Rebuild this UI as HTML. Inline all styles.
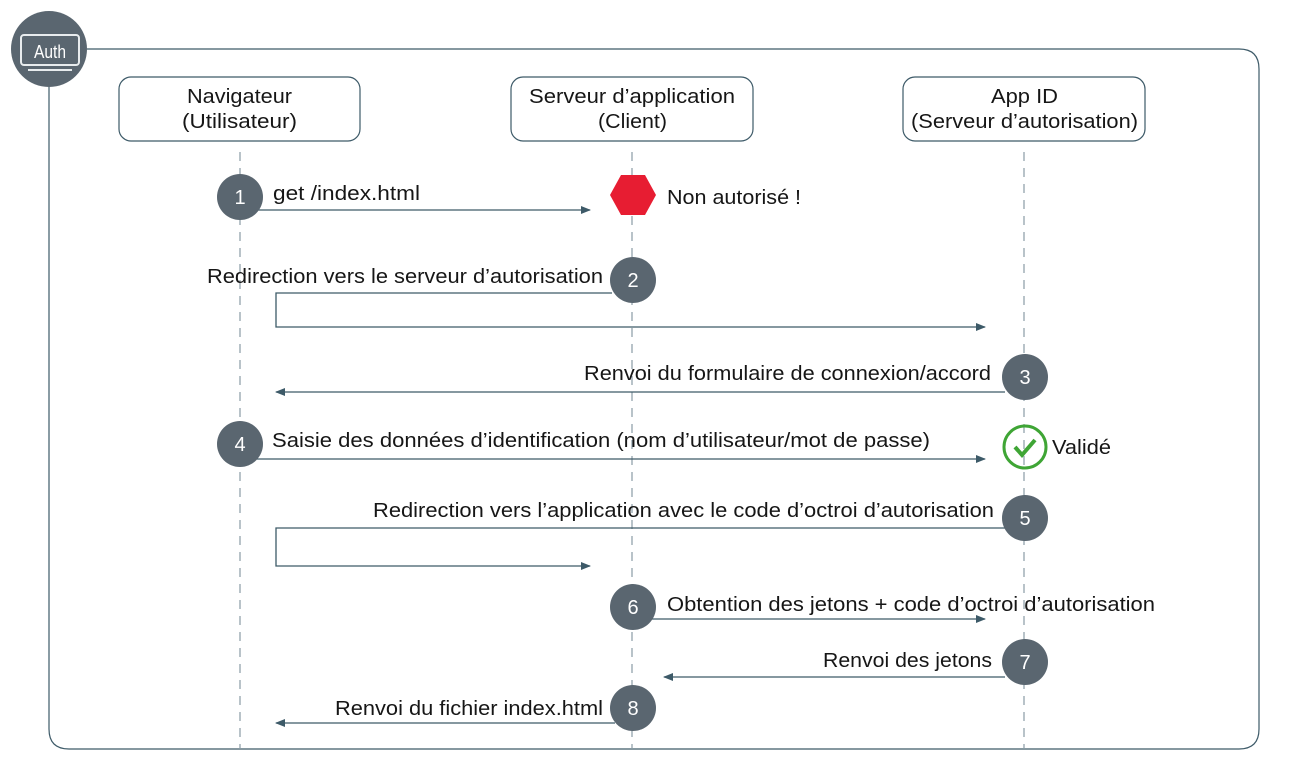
<!DOCTYPE html>
<html><head><meta charset="utf-8"><style>
html,body{margin:0;padding:0;background:#fff;}
svg{display:block;font-family:"Liberation Sans",sans-serif;}
</style></head><body>
<svg width="1313" height="771" viewBox="0 0 1313 771" xmlns="http://www.w3.org/2000/svg">
<defs>
<marker id="ar" markerWidth="10" markerHeight="10" refX="9" refY="5" orient="auto" markerUnits="userSpaceOnUse">
<path d="M0,1 L10,5 L0,9 Z" fill="#3d5a68"/></marker>
</defs>
<path d="M49,87 V729 Q49,749 69,749 H1239 Q1259,749 1259,729 V69 Q1259,49 1239,49 H87" fill="none" stroke="#3d5a68" stroke-width="1.2"/>
<circle cx="49" cy="49" r="38" fill="#5a6670"/>
<rect x="21" y="35" width="58" height="30" rx="3" fill="none" stroke="#e8ecee" stroke-width="2"/>
<line x1="28" y1="70" x2="72" y2="70" stroke="#e8ecee" stroke-width="2"/>
<text x="50" y="58" font-size="18" fill="#fff" text-anchor="middle" textLength="32" lengthAdjust="spacingAndGlyphs">Auth</text>
<g stroke="#8a9ba5" stroke-width="1.2" stroke-dasharray="9,7">
<line x1="240" y1="152" x2="240" y2="749"/>
<line x1="632" y1="152" x2="632" y2="749"/>
<line x1="1024" y1="152" x2="1024" y2="749"/>
</g>
<g fill="#fff" stroke="#3d5a68" stroke-width="1.2">
<rect x="119" y="77" width="241" height="64" rx="12"/>
<rect x="511" y="77" width="242" height="64" rx="12"/>
<rect x="903" y="77" width="242" height="64" rx="12"/>
</g>
<g font-size="20" fill="#161616" lengthAdjust="spacingAndGlyphs">
<text x="187" y="103" textLength="105" lengthAdjust="spacingAndGlyphs">Navigateur</text>
<text x="182" y="128" textLength="115" lengthAdjust="spacingAndGlyphs">(Utilisateur)</text>
<text x="529" y="103" textLength="206" lengthAdjust="spacingAndGlyphs">Serveur d’application</text>
<text x="598" y="128" textLength="69" lengthAdjust="spacingAndGlyphs">(Client)</text>
<text x="991" y="103" textLength="67" lengthAdjust="spacingAndGlyphs">App ID</text>
<text x="911" y="128" textLength="227" lengthAdjust="spacingAndGlyphs">(Serveur d’autorisation)</text>
</g>
<g stroke="#3d5a68" stroke-width="1.3" fill="none">
<line x1="255" y1="210" x2="590" y2="210" marker-end="url(#ar)"/>
<polyline points="612,293 276,293 276,327 985,327" marker-end="url(#ar)"/>
<line x1="1005" y1="392" x2="276" y2="392" marker-end="url(#ar)"/>
<line x1="255" y1="459" x2="985" y2="459" marker-end="url(#ar)"/>
<polyline points="1005,528 276,528 276,566 590,566" marker-end="url(#ar)"/>
<line x1="650" y1="619" x2="985" y2="619" marker-end="url(#ar)"/>
<line x1="1005" y1="677" x2="664" y2="677" marker-end="url(#ar)"/>
<line x1="615" y1="723" x2="276" y2="723" marker-end="url(#ar)"/>
</g>
<g fill="#5a6670">
<circle cx="240" cy="197" r="23"/><circle cx="633" cy="280" r="23"/>
<circle cx="1025" cy="377" r="23"/><circle cx="240" cy="444" r="23"/>
<circle cx="1025" cy="518" r="23"/><circle cx="633" cy="607" r="23"/>
<circle cx="1025" cy="662" r="23"/><circle cx="633" cy="708" r="23"/>
</g>
<g font-size="20" fill="#fff" text-anchor="middle">
<text x="240" y="204">1</text><text x="633" y="287">2</text>
<text x="1025" y="384">3</text><text x="240" y="451">4</text>
<text x="1025" y="525">5</text><text x="633" y="614">6</text>
<text x="1025" y="669">7</text><text x="633" y="715">8</text>
</g>
<polygon points="610,195 621,175 645,175 656,195 645,215 621,215" fill="#e71d32"/>
<circle cx="1025" cy="447" r="21" fill="none" stroke="#3fa535" stroke-width="3"/>
<polyline points="1015,447 1022,455 1035,440" fill="none" stroke="#3fa535" stroke-width="4"/>
<g font-size="20" fill="#161616">
<text x="273" y="200" textLength="147" lengthAdjust="spacingAndGlyphs">get /index.html</text>
<text x="667" y="204" textLength="134" lengthAdjust="spacingAndGlyphs">Non autorisé !</text>
<text x="207" y="283" textLength="396" lengthAdjust="spacingAndGlyphs">Redirection vers le serveur d’autorisation</text>
<text x="584" y="380" textLength="407" lengthAdjust="spacingAndGlyphs">Renvoi du formulaire de connexion/accord</text>
<text x="272" y="447" textLength="658" lengthAdjust="spacingAndGlyphs">Saisie des données d’identification (nom d’utilisateur/mot de passe)</text>
<text x="1052" y="454" textLength="59" lengthAdjust="spacingAndGlyphs">Validé</text>
<text x="373" y="517" textLength="621" lengthAdjust="spacingAndGlyphs">Redirection vers l’application avec le code d’octroi d’autorisation</text>
<text x="667" y="611" textLength="488" lengthAdjust="spacingAndGlyphs">Obtention des jetons + code d’octroi d’autorisation</text>
<text x="823" y="667" textLength="169" lengthAdjust="spacingAndGlyphs">Renvoi des jetons</text>
<text x="335" y="715" textLength="268" lengthAdjust="spacingAndGlyphs">Renvoi du fichier index.html</text>
</g>
</svg>
</body></html>
